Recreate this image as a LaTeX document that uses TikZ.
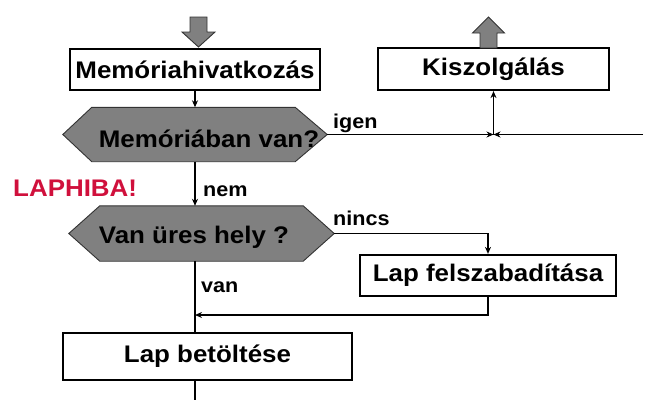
\documentclass[tikz,border=0pt]{standalone}
\usepackage{fontspec}
\setmainfont{Liberation Sans}[FakeStretch=1.08]
\usetikzlibrary{arrows.meta,calc}
\definecolor{hexgray}{RGB}{128,128,128}
\definecolor{errred}{RGB}{208,16,60}
\begin{document}
\begin{tikzpicture}[x=1pt,y=-1pt,
  procbox/.style={draw=black,line width=2.2pt,fill=white,inner sep=0pt,
    font=\fontsize{24}{26}\selectfont\bfseries},
  hexnode/.style={inner sep=0pt},
  hexshape/.style={fill=hexgray,draw=black!80,line width=0.9pt},
  hextext/.style={font=\fontsize{24}{26}\selectfont\bfseries,anchor=base,inner sep=0pt},
  conn/.style={line width=1.2pt,draw=black},
  arr/.style={conn,-{Stealth[length=7pt,width=6pt]}},
  lbl/.style={font=\fontsize{20}{22}\selectfont\bfseries,anchor=base west,inner sep=0pt},
  blockarrow/.style={fill=hexgray,draw=black!80,line width=0.9pt,line join=miter}
]
\useasboundingbox (0,0) rectangle (649,410);

% boxes
\node[procbox,minimum width=250pt,minimum height=41pt] (b1) at (195,69.5) {Memóriahivatkozás};
\node[procbox,minimum width=231pt,minimum height=42pt] (b2) at (493.5,69) {Kiszolgálás};
\node[procbox,minimum width=256pt,minimum height=41pt] (b4) at (488,275.5) {Lap felszabadítása};
\node[procbox,minimum width=289pt,minimum height=47pt] (b3) at (207.5,356.5) {Lap betöltése};

% hexagon 1
\node[hexnode,minimum width=264pt,minimum height=54pt] (h1) at (195,134.5) {};
\draw[hexshape] (h1.west) -- ([xshift=29pt]h1.north west) -- ([xshift=-32pt]h1.north east)
  -- (h1.east) -- ([xshift=-32pt]h1.south east) -- ([xshift=29pt]h1.south west) -- cycle;
\node[hextext] (t1) at (209,147) {Memóriában van?};

% hexagon 2
\node[hexnode,minimum width=265pt,minimum height=55pt] (h2) at (201.5,233.5) {};
\draw[hexshape] (h2.west) -- ([xshift=31pt]h2.north west) -- ([xshift=-31pt]h2.north east)
  -- (h2.east) -- ([xshift=-31pt]h2.south east) -- ([xshift=31pt]h2.south west) -- cycle;
\node[hextext] (t2) at (194,243) {Van üres hely ?};

% block arrows
\coordinate (inarr) at (198.5,17);
\draw[blockarrow] (inarr) ++(-8.5,0) -- ++(17,0) -- ++(0,15) -- ++(8,0) -- (198.5,47)
  -- (182,32) -- (190,32) -- cycle;
\coordinate (outarr) at (488.5,48);
\draw[blockarrow] (outarr) ++(-8.5,0) -- ++(17,0) -- ++(0,-15) -- ++(7.5,0) -- (488.5,17)
  -- (472.5,33) -- (480,33) -- cycle;

% connectors
\coordinate (junc) at (b2.south |- h1.east);
\coordinate (rightend) at (643,134.5);
\coordinate (ret) at (195,315);
\coordinate (bottomend) at (195,400);
\draw[arr] (b1.south) -- (h1.north);
\draw[arr] (h1.east) -- (junc);
\draw[arr] (rightend) -- (junc);
\draw[arr] (junc) -- (b2.south);
\draw[arr] (h1.south) -- (h1.south |- h2.north);
\draw[arr] (h2.east) -| (b4.north);
\draw[conn] (h1.south |- h2.south) -- (h1.south |- b3.north);
\draw[arr] (b4.south) |- (ret);
\draw[conn] (h1.south |- b3.south) -- (bottomend);

% labels
\node[lbl] (ligen) at (333,128) {igen};
\node[lbl] (lnem) at (203,196) {nem};
\node[lbl] (lnincs) at (333,225) {nincs};
\node[lbl] (lvan) at (201,292) {van};
\node[font=\fontsize{24}{26}\selectfont\bfseries,text=errred,anchor=base west,inner sep=0pt] (err) at (13,196) {LAPHIBA!};
\end{tikzpicture}
\end{document}
